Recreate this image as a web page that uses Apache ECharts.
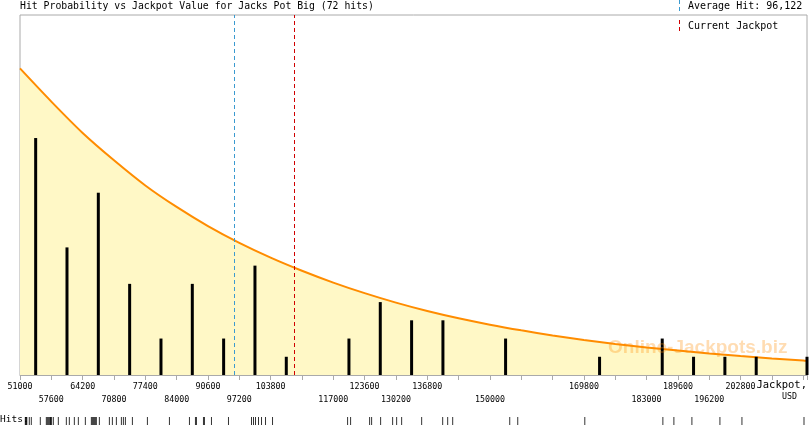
<!DOCTYPE html>
<html>
<head>
<meta charset="utf-8">
<script src="https://cdn.jsdelivr.net/npm/echarts@6/dist/echarts.min.js"></script>
<style>
html,body{margin:0;padding:0;background:#fff;}
#chart{width:810px;height:425px;}
</style>
</head>
<body>
<div id="chart"></div>
<script>
// ---- data ----
const titleText = 'Hit Probability vs Jackpot Value for Jacks Pot Big (72 hits)';
const axisMin = 51000;
const axisMax = 216800;
const tickStep = 6600;
const topRowLabels = [51000, 64200, 77400, 90600, 103800, 123600, 136800, 169800, 189600, 202800];
const bottomRowLabels = [57600, 70800, 84000, 97200, 117000, 130200, 150000, 183000, 196200];

// histogram bars (bin centres) and hit counts
const barX = [54300, 60900, 67500, 74100, 80700, 87300, 93900, 100500, 107100, 120300, 126900, 133500, 140100, 153300, 173100, 186300, 192900, 199500, 206100, 216800];
const barCount = [13, 7, 10, 5, 2, 5, 2, 6, 1, 2, 4, 3, 3, 2, 1, 2, 1, 1, 1, 1];

// fitted probability curve (in hit units)
const curveX = [51000, 57600, 64200, 70800, 77400, 84000, 90600, 97200, 103800, 110400, 117000, 123600, 130200, 136800, 143400, 150000, 156600, 163200, 169800, 176400, 183000, 189600, 196200, 202800, 209400, 216000, 216800];
const curveY = [16.82, 15.00, 13.28, 11.78, 10.40, 9.22, 8.17, 7.25, 6.44, 5.72, 5.07, 4.49, 3.97, 3.51, 3.11, 2.76, 2.45, 2.17, 1.92, 1.70, 1.51, 1.34, 1.18, 1.04, 0.91, 0.80, 0.78];

// individual hits (strip at the bottom)
const hits = [52118, 52223, 52328, 52434, 52961, 53383, 55280, 56546, 56757, 56967, 57178, 57389, 57450,
  57650, 58022, 59076, 60763, 61395, 62450, 63293,
  64769, 66034, 66245, 66456, 66667, 66878, 67089, 67721, 69830, 70462,
  71306, 72360, 72782, 73204, 74680,
  77842, 82481,
  86699, 87964, 88175, 89651, 89861,
  91338, 94922,
  99772, 100194, 100615, 101248, 101880, 102724,
  104200,
  120014, 120647,
  124653, 125075, 126973, 129503,
  130347, 131401, 135618,
  140046, 141100, 142155,
  154174, 155861,
  169988,
  186435, 188755,
  192551, 198454, 203093, 216167];

const averageHit = 96122;
const currentJackpot = 108700;
const yMax = 19.75;

// ---- chart ----
const mono = 'DejaVu Sans Mono';
const topSet = new Set(topRowLabels);
const botSet = new Set(bottomRowLabels);

const chart = echarts.init(document.getElementById('chart'), null, {renderer: 'canvas'});
chart.setOption({
  animation: false,
  backgroundColor: '#ffffff',
  grid: [
    {left: 20, right: 3, top: 15, bottom: 50, show: true, borderColor: '#aaaaaa', borderWidth: 1, backgroundColor: 'transparent'},
    {left: 20, right: 3, top: 417, height: 8}
  ],
  xAxis: [
    {
      type: 'value', gridIndex: 0, min: axisMin, max: axisMax, interval: tickStep,
      axisLine: {lineStyle: {color: '#aaaaaa'}},
      axisTick: {show: true, length: 5, lineStyle: {color: '#aaaaaa'}},
      splitLine: {show: false},
      axisLabel: {
        margin: 5,
        fontFamily: mono, fontSize: 8.3, color: '#000', lineHeight: 13,
        showMinLabel: true, showMaxLabel: true,
        formatter: function (v) {
          const r = Math.round(v);
          if (topSet.has(r)) return String(r);
          if (botSet.has(r)) return '\n' + r;
          return '';
        }
      }
    },
    {type: 'value', gridIndex: 1, min: axisMin, max: axisMax, show: false}
  ],
  yAxis: [
    {type: 'value', gridIndex: 0, min: 0, max: yMax, show: false, splitLine: {show: false}},
    {type: 'value', gridIndex: 1, min: 0, max: 1, show: false}
  ],
  series: [
    {
      type: 'line', xAxisIndex: 0, yAxisIndex: 0, z: 1,
      data: curveX.map((x, i) => [x, curveY[i]]),
      smooth: 0.3, showSymbol: false, symbol: 'none',
      lineStyle: {color: '#ff8c00', width: 2},
      areaStyle: {color: '#fff8c6', opacity: 1},
      silent: true
    },
    {
      type: 'bar', xAxisIndex: 0, yAxisIndex: 0, z: 3,
      data: barX.map((x, i) => [x, barCount[i]]),
      barWidth: 3,
      itemStyle: {color: '#000000'},
      silent: true,
      markLine: {
        silent: true, symbol: 'none', label: {show: false},
        data: [
          {xAxis: averageHit, lineStyle: {color: '#3a9ad0', type: [4, 3], width: 1}},
          {xAxis: currentJackpot, lineStyle: {color: '#d00000', type: [4, 3], width: 1}}
        ]
      }
    },
    {
      type: 'scatter', xAxisIndex: 1, yAxisIndex: 1,
      data: hits.map(v => [v, 0.5]),
      symbol: 'rect', symbolSize: [1, 8],
      itemStyle: {color: '#000000'},
      silent: true
    }
  ],
  graphic: [
    {type: 'text', left: 20, top: 1, z: 10, style: {text: titleText, font: '9.8px "DejaVu Sans Mono"', fill: '#000'}},
    {type: 'line', z: 10, shape: {x1: 679.5, y1: 0, x2: 679.5, y2: 12}, style: {stroke: '#3a9ad0', lineWidth: 1, lineDash: [4, 3]}},
    {type: 'text', left: 688, top: 1, z: 10, style: {text: 'Average Hit: 96,122', font: '10px "DejaVu Sans Mono"', fill: '#000'}},
    {type: 'line', z: 10, shape: {x1: 679.5, y1: 20, x2: 679.5, y2: 33}, style: {stroke: '#d00000', lineWidth: 1, lineDash: [4, 3]}},
    {type: 'text', left: 688, top: 21, z: 10, style: {text: 'Current Jackpot', font: '10px "DejaVu Sans Mono"', fill: '#000'}},
    {type: 'text', left: 608, top: 338, z: 5, style: {text: 'Online-Jackpots.biz', font: 'bold 19px "Liberation Sans"', fill: 'rgba(255,140,0,0.3)'}},
    {type: 'text', right: 3, top: 380, z: 10, style: {text: 'Jackpot,', font: '10.5px "DejaVu Sans Mono"', fill: '#000'}},
    {type: 'text', left: 782, top: 393, z: 10, style: {text: 'USD', font: '8.3px "DejaVu Sans Mono"', fill: '#000'}},
    {type: 'text', left: 0, top: 415, z: 10, style: {text: 'Hits:', font: '9.5px "DejaVu Sans Mono"', fill: '#000'}}
  ]
});
</script>
</body>
</html>
